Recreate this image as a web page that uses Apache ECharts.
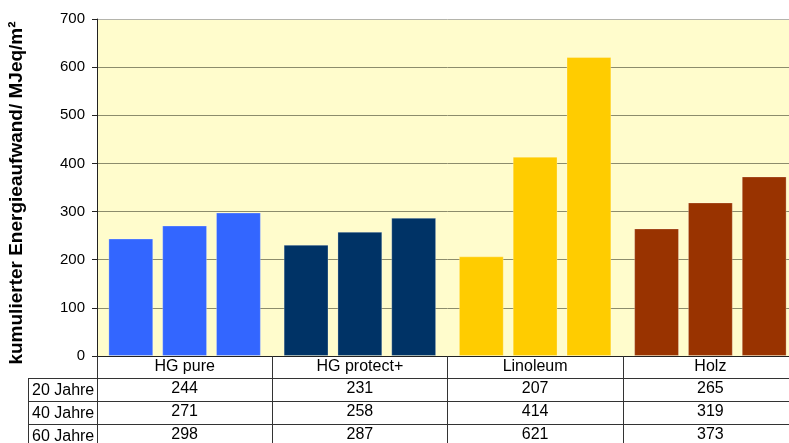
<!DOCTYPE html>
<html><head><meta charset="utf-8">
<script src="https://cdn.jsdelivr.net/npm/echarts@6/dist/echarts.min.js"></script>
<style>html,body{margin:0;padding:0;background:#fff;overflow:hidden;width:789px;height:443px}#c{width:800px;height:443px}</style>
</head><body><div id="c"></div>
<script>
const categories = ['HG pure', 'HG protect+', 'Linoleum', 'Holz'];
const seriesNames = ['20 Jahre', '40 Jahre', '60 Jahre'];
const values20 = [244, 231, 207, 265];
const values40 = [271, 258, 414, 319];
const values60 = [298, 287, 621, 373];
const categoryColors = ['#3366FF', '#003366', '#FFCC00', '#993300'];
const yTicks = [0, 100, 200, 300, 400, 500, 600, 700];
const yTitle = 'kumulierter Energieaufwand/ MJeq/m²';

const FONT = 'Liberation Sans, Arial, sans-serif';
const allValues = [values20, values40, values60];
const chart = echarts.init(document.getElementById('c'), null, {renderer: 'canvas'});

const gridTop = 19, gridBottom = 87, gridLeft = 97, gridWidth = 701;
const rowOffsets = [22, 45, 68];

function barSeries(i) {
  return {
    name: seriesNames[i], type: 'bar', xAxisIndex: 0, yAxisIndex: 0,
    barGap: '20%', barCategoryGap: '13%',
    data: allValues[i].map((v, k) => ({value: v, itemStyle: {color: categoryColors[k]}})),
    itemStyle: {borderColor: 'rgba(255,255,255,0.25)', borderWidth: 1},
    silent: true
  };
}

const xAxes = [{
  type: 'category', data: categories, gridIndex: 0, position: 'bottom',
  axisLine: {show: true, lineStyle: {color: '#222', width: 1}},
  axisTick: {show: true, length: 90, inside: false, lineStyle: {color: '#333'}},
  axisLabel: {interval: 0, margin: 3, color: '#000', fontFamily: FONT, fontSize: 16}
}];
rowOffsets.forEach((off, r) => {
  xAxes.push({
    type: 'category', data: categories, gridIndex: 0, position: 'bottom', offset: off,
    axisLine: {show: true, lineStyle: {color: '#333', width: 1}},
    axisTick: {show: false},
    axisLabel: {interval: 0, margin: 3, color: '#000', fontFamily: FONT, fontSize: 16,
      formatter: (val, idx) => String(allValues[r][idx])}
  });
});

const graphics = [
  {type: 'text', x: 17, y: 193, rotation: Math.PI / 2,
   style: {text: yTitle, font: 'bold 19px ' + FONT, fill: '#000', align: 'center', verticalAlign: 'middle'}},
  {type: 'line', shape: {x1: 28.5, y1: 378, x2: 28.5, y2: 443}, style: {stroke: '#333', lineWidth: 1}}
];
rowOffsets.forEach((off, r) => {
  const y = 356 + off + 0.5;
  graphics.push({type: 'line', shape: {x1: 28, y1: y, x2: gridLeft, y2: y}, style: {stroke: '#333', lineWidth: 1}});
  graphics.push({type: 'text', x: 32, y: y + 12, style: {text: seriesNames[r], font: '16px ' + FONT, fill: '#000', align: 'left', verticalAlign: 'middle'}});
});

const option = {
  animation: false,
  backgroundColor: '#ffffff',
  grid: {left: gridLeft, width: gridWidth, top: gridTop, bottom: gridBottom, show: true,
         backgroundColor: '#FFFCCC', borderWidth: 0},
  xAxis: xAxes,
  yAxis: {
    type: 'value', min: yTicks[0], max: yTicks[yTicks.length - 1], interval: 100,
    axisLine: {show: true, lineStyle: {color: '#222'}},
    axisTick: {show: true, length: 5, inside: false, lineStyle: {color: '#222'}},
    axisLabel: {margin: 12, color: '#000', fontFamily: FONT, fontSize: 15},
    splitLine: {show: true, lineStyle: {color: ['#8C8C6C','#8C8C6C','#8C8C6C','#8C8C6C','#8C8C6C','#8C8C6C','#8C8C6C','#B4B4AC'], width: 1}}
  },
  series: [barSeries(0), barSeries(1), barSeries(2)],
  graphic: graphics
};
chart.setOption(option);
</script>
</body></html>
